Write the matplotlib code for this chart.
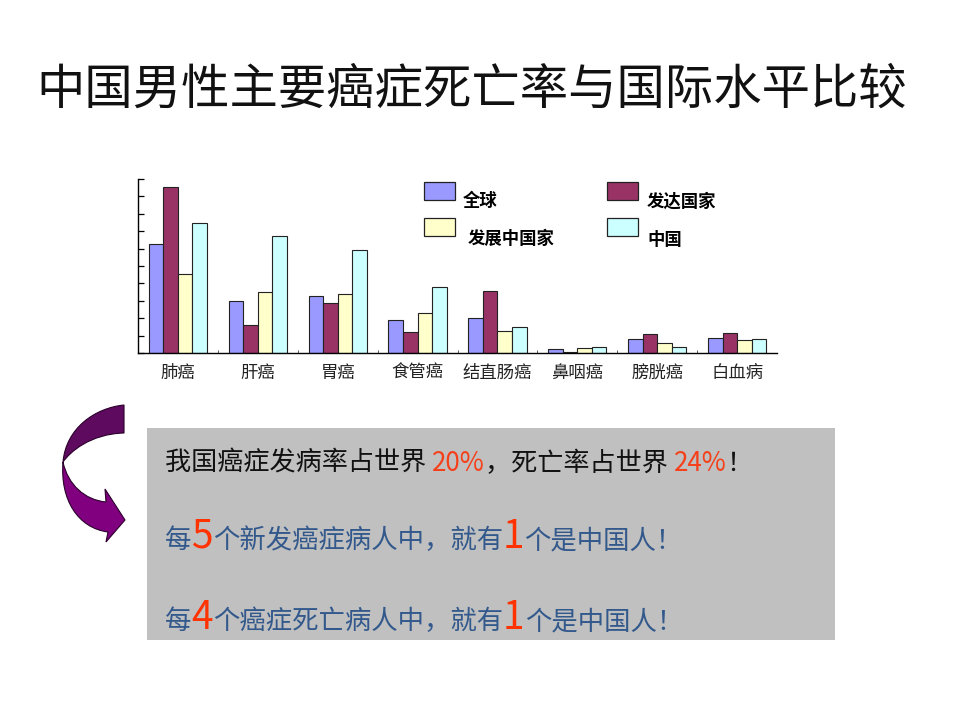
import matplotlib
matplotlib.use("Agg")
import matplotlib.pyplot as plt
from matplotlib.patches import Rectangle, PathPatch
from matplotlib.path import Path
import numpy as np

plt.rcParams['font.family'] = ['Noto Sans CJK SC', 'DejaVu Sans']

W, H = 960, 720

# ---- data (mortality) ----
title = "中国男性主要癌症死亡率与国际水平比较"
cancers = ["肺癌", "肝癌", "胃癌", "食管癌", "结直肠癌", "鼻咽癌", "膀胱癌", "白血病"]
series_names = ["全球", "发达国家", "发展中国家", "中国"]
world = [31.2, 14.9, 16.3, 9.4, 10.1, 1.2, 4.1, 4.4]
developed = [47.7, 8.1, 14.5, 6.0, 17.8, 0.3, 5.6, 5.7]
developing = [22.8, 17.5, 16.9, 11.6, 6.2, 1.5, 2.9, 3.6]
china = [37.4, 33.7, 29.6, 19.0, 7.5, 1.8, 1.8, 4.1]
series_values = [world, developed, developing, china]
colors = ["#9999FF", "#993366", "#FFFFCC", "#CCFFFF"]

fig = plt.figure(figsize=(W / 100, H / 100), dpi=100)
fig.patch.set_facecolor("white")


def px(x, y):
    """pixel coords (top-left origin) -> figure fraction"""
    return x / W, 1 - y / H


# title
fig.text(*px(472, 90), title, fontsize=34.8, ha="center", va="center", color="#111111")

# ---- bar chart ----
left, right, top, bottom = 138, 777, 179, 353
ax = fig.add_axes([left / W, 1 - bottom / H, (right - left) / W, (bottom - top) / H])
x = np.arange(len(cancers))
bw = 0.182
for i, (vals, c) in enumerate(zip(series_values, colors)):
    ax.bar(x + (i - 1.5) * bw, vals, bw, color=c, edgecolor="#222222", linewidth=0.8)

ax.set_xlim(-0.5, len(cancers) - 0.5)
ax.set_ylim(0, 50)
ax.set_yticks(np.arange(0, 51, 5))
ax.set_yticklabels([])
ax.tick_params(axis="y", direction="in", length=4, width=0.9, color="black")
ax.set_xticks(x)
ax.set_xticklabels(cancers, fontsize=12.5, color="#222222")
ax.tick_params(axis="x", length=0, pad=8)
ax.set_xticks(np.arange(0.5, len(cancers) - 0.5, 1), minor=True)
ax.tick_params(axis="x", which="minor", direction="in", length=2, color="#444444")
for s in ["top", "right"]:
    ax.spines[s].set_visible(False)
ax.spines["left"].set_linewidth(1.0)
ax.spines["bottom"].set_linewidth(1.0)

# ---- legend (2 x 2) ----
leg_pos = [(424, 182, 463, 201), (607, 182, 647, 202),
           (424, 218, 468, 239), (607, 218, 647, 240)]
for (bx, by, tx, ty), name, c in zip(leg_pos, series_names, colors):
    fx, fy = px(bx, by + 18)
    fig.patches.append(Rectangle((fx, fy), 31 / W, 18 / H, transform=fig.transFigure,
                                 facecolor=c, edgecolor="#222222", linewidth=0.9))
    fig.text(*px(tx, ty), name, fontsize=12.5, fontweight="bold", va="center", color="black")

# ---- curved purple arrow (drawn in pixel space) ----
over = fig.add_axes([0, 0, 1, 1], zorder=5)
over.set_xlim(0, W)
over.set_ylim(H, 0)
over.axis("off")

upper = [
    (Path.MOVETO, (124, 405)),
    (Path.CURVE4, (95, 408)), (Path.CURVE4, (66, 428)), (Path.CURVE4, (63, 462)),
    (Path.CURVE4, (70, 452)), (Path.CURVE4, (90, 434)), (Path.CURVE4, (124, 433)),
    (Path.CLOSEPOLY, (124, 405)),
]
lower = [
    (Path.MOVETO, (63, 462)),
    (Path.CURVE4, (60, 500)), (Path.CURVE4, (78, 528)), (Path.CURVE4, (108, 532)),
    (Path.LINETO, (106, 542)),
    (Path.LINETO, (125, 520)),
    (Path.LINETO, (105, 489)),
    (Path.LINETO, (106, 502)),
    (Path.CURVE4, (85, 500)), (Path.CURVE4, (68, 485)), (Path.CURVE4, (63, 462)),
    (Path.CLOSEPOLY, (63, 462)),
]
for segs, col in [(lower, "#800080"), (upper, "#5E0A5E")]:
    codes, verts = zip(*segs)
    over.add_patch(PathPatch(Path(verts, codes), facecolor=col, edgecolor="#2A002A",
                             linewidth=0.8))

# ---- gray text box ----
over.add_patch(Rectangle((147, 428), 688, 212, facecolor="#C0C0C0", edgecolor="none",
                         zorder=0))

red = "#F5401A"
red2 = "#FF3300"
blue = "#33598C"
black = "#111111"
lines = [
    (165, 471, [("我国癌症发病率占世界 ", black, 18.8), ("20%", red, 18.8),
                ("，死亡率占世界 ", black, 18.8), ("24%", red, 18.8), ("！", black, 18.8)]),
    (165, 548, [("每", blue, 19), ("5", red2, 28), ("个新发癌症病人中，就有", blue, 19),
                ("1", red2, 28), ("个是中国人！", blue, 19)]),
    (165, 629, [("每", blue, 19), ("4", red2, 28), ("个癌症死亡病人中，就有", blue, 19),
                ("1", red2, 28), ("个是中国人！", blue, 19)]),
]
renderer = fig.canvas.get_renderer()
for lx, ly, segs in lines:
    cx = lx
    for s, col, size in segs:
        t = fig.text(*px(cx, ly), s, color=col, fontsize=size, va="baseline", zorder=6)
        cx += t.get_window_extent(renderer).width

fig.savefig("out.png", dpi=100)
